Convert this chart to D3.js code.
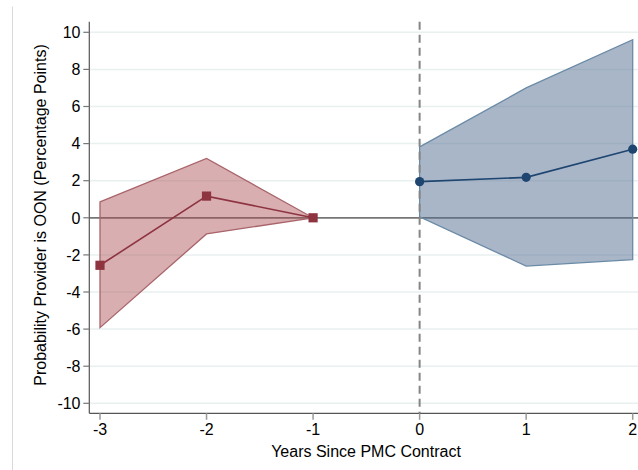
<!DOCTYPE html>
<html><head><meta charset="utf-8">
<script src="https://cdn.jsdelivr.net/npm/d3@7"></script>
<style>body{margin:0;background:#fff;} text{font-family:"Liberation Sans",Arial,sans-serif;}</style>
</head><body>
<svg id="c" width="638" height="470"></svg>
<script>
const preYears = [-3, -2, -1];
const preEst   = [-2.56, 1.17, 0];
const preLo    = [-5.92, -0.87, 0];
const preHi    = [0.86, 3.2, 0];
const postYears = [0, 1, 2];
const postEst   = [1.95, 2.18, 3.7];
const postLo    = [0.05, -2.6, -2.25];
const postHi    = [3.82, 7.0, 9.6];
const xTicks = [-3, -2, -1, 0, 1, 2];
const yTicks = [-10, -8, -6, -4, -2, 0, 2, 4, 6, 8, 10];

const svg = d3.select("#c");
const x = d3.scaleLinear().domain([-3, 2]).range([100, 632.7]);
const y = d3.scaleLinear().domain([-10, 10]).range([403.3, 32.3]);
const xLeft = 89.3, xRight = 638, yTop = 21.7, yBot = 413.3;

svg.append("line").attr("x1",12.5).attr("x2",12.5).attr("y1",6.5).attr("y2",470)
  .attr("stroke","#d9d9d9").attr("stroke-width",1);

svg.append("g").selectAll("line").data(yTicks.filter(d=>d!==0)).join("line")
  .attr("x1",xLeft).attr("x2",xRight).attr("y1",d=>y(d)).attr("y2",d=>y(d))
  .attr("stroke","#e9f0f0").attr("stroke-width",1.5);

svg.append("line").attr("x1",xLeft).attr("x2",xRight).attr("y1",y(0)).attr("y2",y(0))
  .attr("stroke","#767676").attr("stroke-width",1.8);

const pre = preYears.map((d,i)=>({x:d,e:preEst[i],lo:preLo[i],hi:preHi[i]}));
const post = postYears.map((d,i)=>({x:d,e:postEst[i],lo:postLo[i],hi:postHi[i]}));

const area = d3.area().x(d=>x(d.x)).y0(d=>y(d.lo)).y1(d=>y(d.hi));
const line = d3.line().x(d=>x(d.x)).y(d=>y(d.e));

svg.append("path").datum(pre).attr("d",area)
  .attr("fill","#a94b50").attr("fill-opacity",0.45)
  .attr("stroke","#a9646a").attr("stroke-width",1.3);
svg.append("path").datum(post).attr("d",area)
  .attr("fill","#536d91").attr("fill-opacity",0.5)
  .attr("stroke","#6a8aa6").attr("stroke-width",1.3);

svg.append("line").attr("x1",x(0)).attr("x2",x(0)).attr("y1",yTop).attr("y2",yBot)
  .attr("stroke","#858585").attr("stroke-width",2).attr("stroke-dasharray","8,5");

svg.append("path").datum(pre).attr("d",line).attr("fill","none")
  .attr("stroke","#8e3340").attr("stroke-width",1.6);
svg.append("g").selectAll("rect").data(pre).join("rect")
  .attr("x",d=>x(d.x)-4.6).attr("y",d=>y(d.e)-4.6).attr("width",9.2).attr("height",9.2)
  .attr("fill","#8e3340");

svg.append("path").datum(post).attr("d",line).attr("fill","none")
  .attr("stroke","#1e4670").attr("stroke-width",1.6);
svg.append("g").selectAll("circle").data(post).join("circle")
  .attr("cx",d=>x(d.x)).attr("cy",d=>y(d.e)).attr("r",4.6)
  .attr("fill","#1e4670");

svg.append("line").attr("x1",xLeft).attr("x2",xLeft).attr("y1",yTop).attr("y2",yBot)
  .attr("stroke","#555").attr("stroke-width",1.2);
svg.append("line").attr("x1",xLeft).attr("x2",xRight).attr("y1",yBot).attr("y2",yBot)
  .attr("stroke","#555").attr("stroke-width",1.2);

const yg = svg.append("g");
yg.selectAll("line").data(yTicks).join("line")
  .attr("x1",xLeft-6).attr("x2",xLeft).attr("y1",d=>y(d)).attr("y2",d=>y(d))
  .attr("stroke","#777").attr("stroke-width",1.2);
yg.selectAll("text").data(yTicks).join("text")
  .attr("x",80.5).attr("y",d=>y(d)).attr("dy","0.36em").attr("text-anchor","end")
  .attr("font-size",16).attr("fill","#000").text(d=>d);

const xg = svg.append("g");
xg.selectAll("line").data(xTicks).join("line")
  .attr("x1",d=>x(d)).attr("x2",d=>x(d)).attr("y1",yBot).attr("y2",yBot+6.5)
  .attr("stroke","#999").attr("stroke-width",1.5);
xg.selectAll("text").data(xTicks).join("text")
  .attr("x",d=>x(d)).attr("y",435).attr("text-anchor","middle")
  .attr("font-size",16).attr("fill","#000").text(d=>d);

svg.append("text").attr("x",366).attr("y",456.5).attr("text-anchor","middle")
  .attr("font-size",16).attr("fill","#000").text("Years Since PMC Contract");
svg.append("text").attr("transform","translate(46,215) rotate(-90)").attr("text-anchor","middle")
  .attr("font-size",16).attr("fill","#000").text("Probability Provider is OON (Percentage Points)");
</script>
</body></html>
